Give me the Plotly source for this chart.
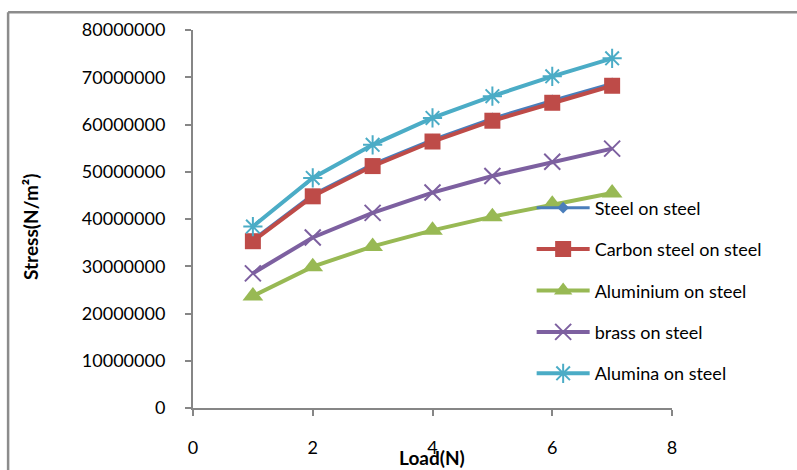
import plotly.graph_objects as go

load = [1, 2, 3, 4, 5, 6, 7]
steel_on_steel = [35600000, 45200000, 51600000, 56800000, 61300000, 65100000, 68700000]
carbon_steel_on_steel = [35300000, 44800000, 51200000, 56400000, 60800000, 64600000, 68200000]
aluminium_on_steel = [23700000, 29900000, 34200000, 37600000, 40500000, 43100000, 45500000]
brass_on_steel = [28500000, 36100000, 41300000, 45600000, 49100000, 52100000, 54900000]
alumina_on_steel = [38400000, 48700000, 55700000, 61400000, 66000000, 70200000, 74000000]

series_names = ["Steel on steel", "Carbon steel on steel", "Aluminium on steel",
                "brass on steel", "Alumina on steel"]
series_values = [steel_on_steel, carbon_steel_on_steel, aluminium_on_steel,
                 brass_on_steel, alumina_on_steel]
colors = ["#4A7EBB", "#BE4B48", "#98B954", "#7D60A0", "#4BACC6"]
symbols = ["diamond", "square", "triangle-up", "x-thin-open", "asterisk-open"]
sizes = [9, 16, 18, 16, 16]

FONT = "Lato"

fig = go.Figure()
for i, (name, vals) in enumerate(zip(series_names, series_values)):
    open_sym = symbols[i].endswith("open")
    fig.add_trace(go.Scatter(
        x=load, y=vals, name=name, mode="lines+markers",
        legendgroup=f"g{i}",
        line=dict(color=colors[i], width=4 if i != 0 else 3),
        marker=dict(symbol=symbols[i], size=sizes[i], color=colors[i],
                    line=dict(color=colors[i], width=2 if open_sym else 0)),
    ))

fig.update_layout(
    width=797, height=470,
    margin=dict(l=193, r=125, t=30, b=60),
    paper_bgcolor="white", plot_bgcolor="white",
    font=dict(family=FONT, size=18, color="#000000"),
    showlegend=True,
    legend=dict(x=0.707, y=0.578, xanchor="left", yanchor="top",
                bgcolor="rgba(0,0,0,0)", itemwidth=53,
                tracegroupgap=15, font=dict(family=FONT, size=18),
                itemclick=False),
    xaxis=dict(range=[0, 8], dtick=2, tick0=0, showgrid=False, zeroline=False,
               showline=True, linecolor="#868686", linewidth=2,
               ticks="outside", ticklen=6, tickcolor="#868686", tickwidth=2,
               ticklabelstandoff=16),
    yaxis=dict(range=[0, 80000000], dtick=10000000, tick0=0, tickformat="d",
               showgrid=False, zeroline=False,
               showline=True, linecolor="#868686", linewidth=2,
               ticks="outside", ticklen=6, tickcolor="#868686", tickwidth=2,
               ticklabelstandoff=16),
    shapes=[
        dict(type="line", xref="paper", yref="paper",
             x0=-0.386, x1=1.4, y0=1.047, y1=1.047,
             line=dict(color="#8C8C8C", width=2.5)),
        dict(type="line", xref="paper", yref="paper",
             x0=-0.386, x1=-0.386, y0=1.047, y1=-0.2,
             line=dict(color="#8C8C8C", width=2.5)),
    ],
    annotations=[
        dict(text="<b>Load(N)</b>", xref="paper", yref="paper",
             x=(432 - 193) / 479, y=(410 - 460) / 380, xanchor="center",
             yanchor="middle", showarrow=False, font=dict(family=FONT, size=19)),
        dict(text="<b>Stress(N/m²)</b>", xref="paper", yref="paper",
             x=(31 - 193) / 479, y=(410 - 228) / 380, xanchor="center",
             yanchor="middle", textangle=-90, showarrow=False,
             font=dict(family=FONT, size=19)),
    ],
)

fig.write_html("out.html")
